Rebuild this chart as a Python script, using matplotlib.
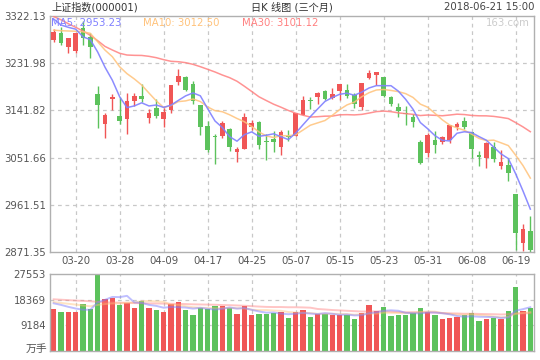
import matplotlib
matplotlib.use("Agg")
import matplotlib.pyplot as plt
import numpy as np

plt.rcParams['font.family'] = ['DejaVu Sans', 'Noto Sans CJK SC']

# ---------------- data ----------------
dates = ["03-15", "03-16", "03-19", "03-20", "03-21", "03-22", "03-23", "03-26", "03-27", "03-28",
         "03-29", "03-30", "04-02", "04-03", "04-04", "04-09", "04-10", "04-11", "04-12", "04-13",
         "04-16", "04-17", "04-18", "04-19", "04-20", "04-23", "04-24", "04-25", "04-26", "04-27",
         "05-02", "05-03", "05-04", "05-07", "05-08", "05-09", "05-10", "05-11", "05-14", "05-15",
         "05-16", "05-17", "05-18", "05-21", "05-22", "05-23", "05-24", "05-25", "05-28", "05-29",
         "05-30", "05-31", "06-01", "06-04", "06-05", "06-06", "06-07", "06-08", "06-11", "06-12",
         "06-13", "06-14", "06-15", "06-19", "06-20", "06-21"]

opens = [3276.3, 3289.7, 3263.5, 3255.9, 3299.2, 3282.6, 3173.2, 3116.4, 3164.0, 3131.0,
         3125.4, 3160.4, 3169.3, 3127.9, 3145.8, 3124.8, 3142.6, 3196.7, 3205.0, 3192.2,
         3152.7, 3112.0, 3092.0, 3093.5, 3106.3, 3063.0, 3068.0, 3110.7, 3119.7, 3083.0,
         3087.2, 3072.5, 3092.5, 3093.5, 3132.9, 3161.0, 3168.0, 3178.9, 3165.5, 3178.9,
         3180.8, 3171.2, 3148.9, 3204.3, 3210.0, 3205.6, 3166.8, 3148.3, 3137.0, 3129.2,
         3080.9, 3061.0, 3085.3, 3082.1, 3086.1, 3110.7, 3121.0, 3101.2, 3056.6, 3051.5,
         3072.5, 3036.2, 3037.5, 2982.1, 2889.1, 2911.4]
highs = [3297.0, 3301.7, 3280.1, 3289.7, 3313.0, 3289.0, 3188.4, 3136.3, 3173.0, 3166.8,
         3175.0, 3175.7, 3191.7, 3143.9, 3163.0, 3147.0, 3190.3, 3220.9, 3206.9, 3197.4,
         3152.7, 3122.2, 3096.7, 3121.0, 3107.5, 3072.5, 3136.9, 3123.5, 3121.6, 3096.7,
         3101.8, 3104.4, 3104.4, 3136.9, 3169.9, 3166.8, 3176.4, 3180.0, 3184.6, 3192.2,
         3192.2, 3175.0, 3194.0, 3219.6, 3215.2, 3205.6, 3168.5, 3156.0, 3150.2, 3135.0,
         3085.3, 3098.6, 3103.0, 3093.5, 3114.3, 3119.1, 3129.8, 3101.2, 3064.9, 3082.1,
         3080.9, 3066.2, 3050.0, 2982.1, 2924.9, 2940.7]
lows = [3271.9, 3266.7, 3250.9, 3251.5, 3266.7, 3241.3, 3108.8, 3089.7, 3143.0, 3115.3,
        3097.3, 3150.8, 3157.3, 3118.3, 3127.9, 3109.5, 3136.9, 3190.3, 3178.0, 3154.0,
        3095.4, 3061.8, 3039.4, 3089.1, 3063.7, 3043.8, 3068.0, 3104.4, 3068.0, 3047.6,
        3063.0, 3056.0, 3084.0, 3093.5, 3132.9, 3144.5, 3154.0, 3162.0, 3163.6, 3161.7,
        3165.5, 3146.4, 3142.6, 3202.4, 3190.3, 3168.0, 3150.0, 3129.8, 3114.5, 3110.7,
        3039.4, 3053.4, 3059.9, 3077.0, 3079.0, 3104.4, 3106.3, 3050.9, 3036.2, 3031.8,
        3042.7, 3029.9, 3007.6, 2875.0, 2872.5, 2871.35]
closes = [3291.4, 3269.9, 3279.3, 3290.6, 3281.0, 3263.5, 3152.8, 3133.7, 3166.7, 3122.3,
          3160.5, 3168.9, 3163.2, 3136.6, 3131.1, 3138.3, 3190.3, 3208.1, 3180.2, 3159.1,
          3110.7, 3066.8, 3091.4, 3117.4, 3071.5, 3068.0, 3128.9, 3118.0, 3075.0, 3082.2,
          3081.2, 3100.9, 3091.0, 3136.7, 3161.5, 3159.2, 3174.4, 3163.3, 3174.0, 3192.1,
          3169.6, 3154.3, 3193.3, 3213.8, 3214.4, 3169.0, 3154.7, 3141.3, 3135.1, 3120.5,
          3041.4, 3095.5, 3075.1, 3091.2, 3114.2, 3115.2, 3109.5, 3067.2, 3052.8, 3079.8,
          3049.8, 3044.2, 3021.9, 2907.8, 2915.7, 2875.8]

ma5 = [3316.4, 3305.0, 3300.5, 3297.0, 3282.4, 3276.9, 3253.4, 3224.3, 3199.5, 3167.8,
       3147.2, 3150.4, 3156.3, 3150.3, 3152.1, 3147.6, 3151.9, 3160.9, 3169.6, 3175.2,
       3169.7, 3145.0, 3121.6, 3109.1, 3091.6, 3083.0, 3095.4, 3100.8, 3092.3, 3094.4,
       3097.1, 3091.5, 3086.1, 3098.4, 3114.3, 3129.9, 3144.6, 3159.0, 3166.5, 3172.6,
       3174.7, 3170.7, 3176.7, 3184.6, 3189.1, 3189.0, 3189.0, 3178.6, 3162.9, 3144.1,
       3118.6, 3106.8, 3093.5, 3084.7, 3083.5, 3098.2, 3101.0, 3099.5, 3091.8, 3084.9,
       3071.8, 3058.8, 3049.7, 3020.7, 2987.9, 2953.23]
ma10 = [3295.0, 3294.0, 3293.5, 3293.0, 3292.0, 3289.0, 3273.0, 3257.0, 3244.4, 3225.1,
        3212.0, 3201.9, 3190.3, 3174.9, 3159.9, 3147.4, 3151.2, 3158.6, 3160.0, 3163.6,
        3158.7, 3148.4, 3141.3, 3139.3, 3133.4, 3126.4, 3120.2, 3111.2, 3100.7, 3093.0,
        3090.0, 3093.5, 3093.4, 3095.3, 3104.3, 3113.5, 3118.0, 3122.5, 3132.4, 3143.4,
        3152.3, 3157.6, 3167.8, 3175.6, 3180.8, 3181.8, 3179.9, 3177.7, 3173.8, 3166.6,
        3153.8, 3147.9, 3136.1, 3123.8, 3113.8, 3108.4, 3103.9, 3096.5, 3088.3, 3084.2,
        3085.0, 3079.9, 3074.6, 3056.2, 3036.4, 3012.50]
ma30 = [3321.0, 3315.0, 3307.4, 3300.5, 3293.5, 3285.2, 3275.0, 3264.0, 3257.2, 3250.9,
        3247.6, 3247.0, 3246.8, 3245.1, 3242.5, 3238.7, 3235.6, 3234.8, 3233.0, 3229.8,
        3225.3, 3220.3, 3215.2, 3209.4, 3204.3, 3197.5, 3188.0, 3178.0, 3167.8, 3160.6,
        3153.6, 3147.9, 3141.7, 3136.5, 3132.6, 3129.1, 3129.8, 3130.8, 3131.0, 3133.4,
        3133.7, 3133.2, 3134.2, 3136.7, 3139.5, 3140.5, 3139.4, 3137.1, 3135.6, 3134.3,
        3132.0, 3133.0, 3132.4, 3131.6, 3133.0, 3134.6, 3133.9, 3132.2, 3131.5, 3131.4,
        3130.4, 3128.5, 3126.2, 3118.5, 3110.3, 3101.12]

volumes = [15000, 14000, 14000, 14000, 16800, 15000, 27200, 18600, 19100, 16500,
           17300, 15400, 17900, 15400, 14700, 14000, 16800, 17500, 14700, 12900,
           15400, 15000, 16100, 16100, 15400, 13200, 16100, 12900, 13200, 13200,
           13500, 14100, 11800, 14100, 14700, 12300, 13200, 13400, 13000, 12800,
           12900, 11600, 13700, 16600, 14300, 15700, 12500, 12900, 12900, 13600,
           15400, 14100, 12900, 11500, 11800, 12300, 12900, 13600, 10700, 11500,
           11900, 11500, 14300, 22900, 14300, 15400]
vol_ma5 = [17070, 16500, 15800, 15200, 14760, 14760, 17400, 18320, 19340, 19280,
           19740, 17380, 17240, 16500, 16140, 15480, 15760, 15680, 15540, 15180,
           15460, 15100, 14820, 15100, 15600, 15160, 15380, 14740, 14160, 13720,
           13780, 13380, 13160, 13340, 13640, 13400, 13220, 13540, 13320, 12940,
           13060, 12740, 12800, 13520, 13820, 14380, 14560, 14400, 13660, 13520,
           13460, 13780, 13780, 13500, 13140, 12520, 12280, 12420, 12260, 12200,
           12120, 11840, 11980, 14420, 14980, 15680]
vol_ma10 = [17500, 17200, 16900, 16600, 16300, 16000, 16500, 16800, 17000, 17020,
            17250, 17390, 17780, 17920, 17710, 17610, 16570, 16460, 16020, 15660,
            15470, 15430, 15250, 15320, 15390, 15310, 15240, 14780, 14630, 14660,
            14470, 14380, 13950, 13750, 13680, 13590, 13300, 13350, 13330, 13290,
            13230, 12980, 13170, 13420, 13380, 13720, 13650, 13600, 13590, 13670,
            13920, 14170, 14090, 13580, 13330, 12990, 13030, 13100, 12880, 12670,
            12320, 12060, 12200, 13340, 13600, 13910]
vol_ma30 = [18500, 18350, 18200, 18050, 17950, 17800, 17600, 17450, 17350, 17300,
            17250, 17150, 17100, 17050, 17000, 16950, 16900, 16850, 16800, 16700,
            16650, 16600, 16550, 16450, 16400, 16300, 16200, 16050, 15900, 15780,
            15730, 15733, 15660, 15663, 15593, 15503, 15037, 14863, 14660, 14537,
            14390, 14263, 14123, 14163, 14150, 14207, 14063, 13910, 13850, 13873,
            13873, 13843, 13737, 13583, 13463, 13433, 13327, 13350, 13267, 13210,
            13157, 13070, 13153, 13447, 13443, 13547]

price_ticks = [2871.35, 2961.51, 3051.66, 3141.82, 3231.98, 3322.13]
vol_ticks = [9184, 18369, 27553]
xtick_idx = [3, 9, 15, 21, 27, 33, 39, 45, 51, 57, 63]

title_left = "上证指数(000001)"
title_mid = "日K 线图 (三个月)"
title_right = "2018-06-21 15:00"

# ---------------- style ----------------
RED = "#F05656"
GREEN = "#5CC25C"
C_MA5 = "#8080FF"
C_MA10 = "#FFC27A"
C_MA30 = "#FF8080"
GRID = "#C8C8C8"
FRAME = "#B0B0B0"
TXT = "#555555"
FS = 7.3

W, H = 540, 360
fig = plt.figure(figsize=(W / 100, H / 100), dpi=100)
L, R = 50, 534
ax = fig.add_axes([L / W, 1 - 252 / H, (R - L) / W, (252 - 16) / H])
axv = fig.add_axes([L / W, 1 - 351 / H, (R - L) / W, (351 - 274) / H])

n = len(closes)
x = np.arange(n)
o = np.array(opens); c = np.array(closes); hi = np.array(highs); lo = np.array(lows)
up = c >= o
cols = [RED if u else GREEN for u in up]

for a in (ax, axv):
    a.set_xlim(-0.5, n - 0.5)
    for s in a.spines.values():
        s.set_color(FRAME)
        s.set_linewidth(1.0)
    a.tick_params(length=0, labelsize=FS, colors=TXT)
    a.set_xticks(xtick_idx)
    for xi in xtick_idx:
        a.axvline(xi, color=GRID, lw=0.9, dashes=(3, 3), zorder=0)

# price panel
ax.set_ylim(price_ticks[0], price_ticks[-1])
for yv in price_ticks[1:-1]:
    ax.axhline(yv, color=GRID, lw=0.9, dashes=(3, 3), zorder=0)
ax.vlines(x, lo, hi, colors=cols, lw=1.0, zorder=2)
body_h = np.maximum(np.abs(c - o), 1.3)
ax.bar(x, body_h, bottom=np.minimum(o, c), width=0.68, color=cols, zorder=3, linewidth=0)
ax.plot(x, ma30, color=C_MA30, lw=1.1, alpha=0.85, zorder=4)
ax.plot(x, ma10, color=C_MA10, lw=1.1, alpha=0.85, zorder=4)
ax.plot(x, ma5, color=C_MA5, lw=1.1, alpha=0.9, zorder=5)
ax.set_yticks(price_ticks)
ax.set_yticklabels([f"{v:.2f}" for v in price_ticks])
ax.tick_params(axis='y', pad=3)
ax.set_xticklabels([dates[i] for i in xtick_idx])
ax.tick_params(axis='x', pad=3)

# legend texts
fig.text(51 / W, 1 - 23 / H, f"MA5: {ma5[-1]:.2f}", color=C_MA5, fontsize=FS, va='center', ha='left')
fig.text(143 / W, 1 - 23 / H, f"MA10: {ma10[-1]:.2f}", color=C_MA10, fontsize=FS, va='center', ha='left')
fig.text(242 / W, 1 - 23 / H, f"MA30: {ma30[-1]:.2f}", color=C_MA30, fontsize=FS, va='center', ha='left')
fig.text(530 / W, 1 - 23 / H, "163.com", color="#CCCCCC", fontsize=FS, va='center', ha='right')

# titles
fig.text(51 / W, 1 - 7 / H, title_left, color="#333333", fontsize=FS, va='center', ha='left')
fig.text(292 / W, 1 - 7 / H, title_mid, color="#333333", fontsize=FS, va='center', ha='center')
fig.text(534 / W, 1 - 7 / H, title_right, color="#444444", fontsize=FS, va='center', ha='right')

# volume panel
axv.set_ylim(0, vol_ticks[-1])
for yv in vol_ticks[:-1]:
    axv.axhline(yv, color=GRID, lw=0.9, dashes=(3, 3), zorder=0)
axv.bar(x, volumes, width=0.7, color=cols, linewidth=0, zorder=2)
axv.plot(x, vol_ma30, color=C_MA30, lw=1.4, alpha=0.45, zorder=3)
axv.plot(x, vol_ma10, color=C_MA10, lw=1.4, alpha=0.45, zorder=3)
axv.plot(x, vol_ma5, color=C_MA5, lw=1.4, alpha=0.5, zorder=3)
axv.set_yticks(vol_ticks)
axv.set_yticklabels([str(v) for v in vol_ticks])
axv.tick_params(axis='y', pad=3)
axv.set_xticklabels([])
fig.text(47 / W, 1 - 349 / H, "万手", color=TXT, fontsize=FS + 0.5, va='center', ha='right')

fig.savefig("out.png", dpi=100)
